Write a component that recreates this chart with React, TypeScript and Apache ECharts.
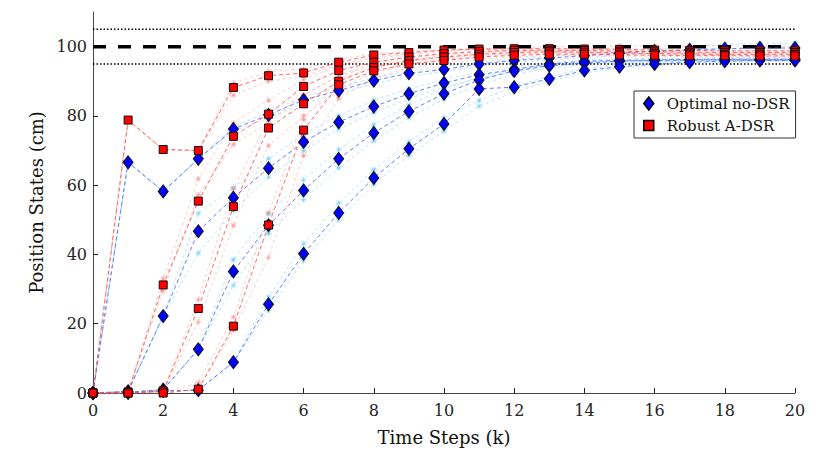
import React, { useEffect, useRef } from "react";
import * as echarts from "echarts";

// ---------- data ----------
const steps = [0, 1, 2, 3, 4, 5, 6, 7, 8, 9, 10, 11, 12, 13, 14, 15, 16, 17, 18, 19, 20];
const yTicks = [0, 20, 40, 60, 80, 100];
const targetLine = 100;
const bandLow = 95;
const bandHigh = 105;

// Optimal no-DSR, nominal trajectories (blue diamonds)
const optimal1 = [0, 66.6, 58.2, 67.6, 76.2, 80.3, 84.6, 87.3, 90.2, 92.3, 93.4, 95.0, 96.0, 96.7, 97.4, 98.1, 98.7, 99.1, 99.4, 99.6, 99.6];
const optimal2 = [0, 0.5, 22.2, 46.7, 56.4, 64.9, 72.5, 78.2, 82.7, 86.4, 89.5, 91.9, 93.4, 95.0, 95.8, 96.0, 96.2, 96.3, 96.4, 96.4, 96.4];
const optimal3 = [0, 0.2, 1.0, 12.6, 35.1, 48.4, 58.5, 67.6, 75.1, 81.3, 86.4, 90.4, 93.0, 94.5, 95.3, 95.8, 96.0, 96.1, 96.2, 96.2, 96.2];
const optimal4 = [0, 0, 0.6, 0.8, 8.9, 25.6, 40.2, 52.0, 62.1, 70.5, 77.7, 87.8, 88.3, 90.7, 93.1, 94.2, 95.0, 95.5, 95.8, 96.0, 96.0];

// Optimal no-DSR, perturbed runs (light cyan asterisks)
const optimalRun1a = [0, 66.6, 58.2, 67.6, 76.8, 81.2, 85.5, 88.4, 91.0, 93.0, 94.3, 95.5, 96.4, 97.2, 97.9, 98.6, 99.3, 100.0, 100.6, 101.0, 101.0];
const optimalRun1b = [0, 66.6, 58.2, 67.6, 75.6, 79.4, 83.6, 86.4, 89.3, 91.5, 92.8, 94.4, 95.5, 96.2, 96.8, 97.5, 98.2, 98.9, 99.4, 99.8, 99.9];
const optimalRun2a = [0, 0.5, 22.2, 51.9, 59.3, 67.6, 74.8, 80.0, 84.5, 87.8, 90.5, 92.6, 94.2, 95.4, 96.1, 96.4, 96.6, 96.7, 96.8, 96.8, 96.8];
const optimalRun2b = [0, 0.5, 22.2, 40.4, 52.7, 62.3, 70.0, 76.2, 81.0, 85.0, 88.2, 90.9, 92.8, 94.3, 95.2, 95.6, 95.8, 96.0, 96.1, 96.1, 96.1];
const optimalRun3a = [0, 0.2, 1.0, 12.6, 38.5, 51.8, 61.5, 70.3, 77.5, 83.2, 87.8, 91.2, 93.5, 94.9, 95.6, 96.0, 96.2, 96.3, 96.4, 96.4, 96.4];
const optimalRun3b = [0, 0.2, 1.0, 12.6, 31.1, 46.1, 55.8, 65.0, 72.8, 79.5, 84.9, 89.0, 91.9, 93.8, 94.9, 95.4, 95.7, 95.9, 96.0, 96.0, 96.0];
const optimalRun4a = [0, 0, 0.6, 0.8, 8.9, 27.7, 43.0, 54.8, 64.5, 72.6, 79.4, 84.5, 88.5, 91.5, 93.5, 94.8, 95.5, 95.9, 96.1, 96.2, 96.2];
const optimalRun4b = [0, 0, 0.6, 0.8, 8.9, 23.9, 38.2, 50.0, 60.2, 68.6, 75.6, 82.8, 87.0, 90.0, 92.4, 93.9, 94.8, 95.3, 95.6, 95.8, 95.8];

// Robust A-DSR, nominal trajectories (red squares)
const robust1 = [0, 78.8, 70.3, 70.0, 88.2, 91.6, 92.4, 95.5, 97.6, 98.3, 99.0, 99.3, 99.4, 99.4, 99.3, 99.2, 99.0, 98.9, 98.8, 98.8, 98.8];
const robust2 = [0, 0.3, 31.2, 55.4, 74.1, 80.5, 88.5, 93.1, 95.5, 97.0, 98.0, 98.6, 98.9, 99.0, 98.9, 98.7, 98.5, 98.4, 98.3, 98.3, 98.3];
const robust3 = [0, 0, 0.6, 24.4, 53.8, 76.5, 83.5, 90.0, 94.0, 96.0, 97.0, 97.8, 98.3, 98.5, 98.4, 98.2, 98.0, 97.9, 97.8, 97.8, 97.8];
const robust4 = [0, 0, 0, 1.1, 19.3, 48.5, 75.9, 89.0, 93.0, 95.0, 96.0, 97.0, 97.5, 97.8, 97.8, 97.6, 97.5, 97.4, 97.4, 97.3, 97.3];

// Robust A-DSR, perturbed runs (light pink asterisks)
const robustRun1a = [0, 78.8, 70.3, 70.0, 86.0, 90.0, 91.5, 94.8, 97.0, 98.0, 98.8, 99.5, 99.8, 100.0, 100.1, 100.2, 100.2, 100.2, 100.2, 100.2, 100.2];
const robustRun1b = [0, 78.8, 70.3, 70.0, 89.5, 92.8, 93.6, 96.2, 98.0, 98.6, 99.2, 99.0, 99.0, 98.9, 98.8, 98.7, 98.6, 98.5, 98.5, 98.5, 98.5];
const robustRun2a = [0, 0.3, 33.0, 61.8, 78.0, 84.5, 90.5, 94.5, 96.5, 97.8, 98.6, 99.2, 99.5, 99.6, 99.5, 99.3, 99.1, 99.0, 98.9, 98.9, 98.9];
const robustRun2b = [0, 0.3, 29.5, 57.2, 71.8, 78.0, 86.0, 91.5, 94.5, 96.2, 97.4, 98.1, 98.5, 98.6, 98.5, 98.3, 98.1, 98.0, 97.9, 97.9, 97.9];
const robustRun3a = [0, 0, 0.6, 27.0, 59.0, 79.0, 86.0, 91.8, 95.0, 96.8, 97.8, 98.4, 98.8, 99.0, 98.9, 98.7, 98.5, 98.3, 98.2, 98.2, 98.2];
const robustRun3b = [0, 0, 0.6, 20.5, 48.4, 71.4, 80.0, 87.5, 92.5, 95.0, 96.3, 97.2, 97.8, 98.1, 98.0, 97.9, 97.7, 97.6, 97.5, 97.5, 97.5];
const robustRun4a = [0, 0, 0, 3.0, 21.9, 52.0, 79.0, 90.5, 94.0, 95.8, 96.8, 97.5, 98.0, 98.2, 98.2, 98.0, 97.9, 97.8, 97.7, 97.7, 97.7];
const robustRun4b = [0, 0, 0, 1.1, 18.1, 39.2, 68.6, 85.0, 91.0, 93.8, 95.2, 96.3, 97.0, 97.4, 97.4, 97.3, 97.2, 97.1, 97.0, 97.0, 97.0];

const optimalMain = [optimal1, optimal2, optimal3, optimal4];
const optimalRuns = [optimalRun1a, optimalRun1b, optimalRun2a, optimalRun2b, optimalRun3a, optimalRun3b, optimalRun4a, optimalRun4b];
const robustMain = [robust1, robust2, robust3, robust4];
const robustRuns = [robustRun1a, robustRun1b, robustRun2a, robustRun2b, robustRun3a, robustRun3b, robustRun4a, robustRun4b];

const OPT_NAME = "Optimal no-DSR";
const ROB_NAME = "Robust A-DSR";

// ---------- styling ----------
const FONT = "DejaVu Serif, Times New Roman, Liberation Serif, serif";
const ASTERISK =
  "path://M-0.5,-5L0.5,-5L0.5,5L-0.5,5Z M-5,-0.5L5,-0.5L5,0.5L-5,0.5Z M-3.9,-3.2L-3.2,-3.9L3.9,3.2L3.2,3.9Z M3.2,-3.9L3.9,-3.2L-3.2,3.9L-3.9,3.2Z";

const toPoints = (vals: number[]) => steps.map((k, i) => [k, vals[i]]);

function runSeries(vals: number[], color: string, name: string) {
  return {
    type: "line",
    name,
    data: toPoints(vals),
    symbol: ASTERISK,
    symbolSize: 6,
    showSymbol: true,
    silent: true,
    lineStyle: { color, width: 0.8, type: [3, 3], opacity: 0.55 },
    itemStyle: { color, opacity: 0.8 },
    emphasis: { disabled: true },
    z: 2,
  };
}

function mainSeries(vals: number[], lineColor: string, fill: string, symbol: string, size: any, name: string) {
  return {
    type: "line",
    name,
    data: toPoints(vals),
    symbol,
    symbolSize: size,
    showSymbol: true,
    silent: true,
    lineStyle: { color: lineColor, width: 1, type: [4, 3], opacity: 0.85 },
    itemStyle: { color: fill, borderColor: "#111", borderWidth: 1, opacity: 1 },
    emphasis: { disabled: true },
    z: 4,
  };
}

function refSeries(y: number, type: any, width: number) {
  return {
    type: "line",
    name: "_ref" + y,
    data: [
      [0, y],
      [20, y],
    ],
    symbol: "none",
    silent: true,
    lineStyle: { color: "#000", width, type },
    emphasis: { disabled: true },
    z: 3,
  };
}

export default function App() {
  const ref = useRef<HTMLDivElement>(null);

  useEffect(() => {
    document.body.style.margin = "0";
    if (!ref.current) return;
    const chart = echarts.init(ref.current, undefined, { renderer: "svg" });

    const series: any[] = [
      ...optimalRuns.map((v) => runSeries(v, "#5cc8f0", "_optRun")),
      ...robustRuns.map((v) => runSeries(v, "#f58c8c", "_robRun")),
      refSeries(bandLow, [1.5, 2], 1.5),
      refSeries(bandHigh, [1.5, 2], 1.5),
      refSeries(targetLine, [13, 12], 3.5),
      ...optimalMain.map((v) => mainSeries(v, "#4a66ff", "#0000ff", "diamond", [10, 13], OPT_NAME)),
      ...robustMain.map((v) => mainSeries(v, "#ff4d4d", "#ff0000", "rect", 8, ROB_NAME)),
    ];

    chart.setOption({
      animation: false,
      backgroundColor: "#fff",
      textStyle: { fontFamily: FONT },
      grid: { left: 93, right: 27, top: 12, bottom: 67 },
      legend: {
        data: [
          {
            name: OPT_NAME,
            icon: "path://M5,0L10,6.5L5,13L0,6.5Z",
            itemStyle: { color: "#0000ff", borderColor: "#000", borderWidth: 1.5 },
          },
          {
            name: ROB_NAME,
            icon: "path://M0,0L10,0L10,10L0,10Z",
            itemStyle: { color: "#ff0000", borderColor: "#000", borderWidth: 1.5 },
          },
        ],
        symbolKeepAspect: true,
        orient: "vertical",
        left: 634,
        top: 91,
        itemWidth: 10,
        itemHeight: 13,
        itemGap: 5,
        padding: [4, 6, 4, 9],
        backgroundColor: "#fff",
        borderColor: "#333",
        borderWidth: 1,
        borderRadius: 0,
        selectedMode: false,
        textStyle: { fontFamily: FONT, fontSize: 15, color: "#111", lineHeight: 17, padding: [0, 0, 0, 8] },
      },
      xAxis: {
        type: "value",
        min: 0,
        max: 20,
        interval: 2,
        name: "Time Steps (k)",
        nameLocation: "middle",
        nameGap: 35,
        nameTextStyle: { fontFamily: FONT, fontSize: 18, color: "#111" },
        axisLine: { show: true, onZero: false, lineStyle: { color: "#444", width: 1 } },
        axisTick: { show: true, inside: true, length: 5, lineStyle: { color: "#222" } },
        axisLabel: { fontFamily: FONT, fontSize: 16, color: "#222", margin: 9 },
        splitLine: { show: false },
      },
      yAxis: {
        type: "value",
        min: 0,
        max: 110,
        name: "Position States (cm)",
        nameLocation: "middle",
        nameGap: 40,
        nameRotate: 90,
        nameTextStyle: { fontFamily: FONT, fontSize: 18, color: "#111" },
        axisLine: { show: true, lineStyle: { color: "#444", width: 1 } },
        axisTick: { show: true, inside: true, length: 5, lineStyle: { color: "#222" }, customValues: yTicks },
        axisLabel: { fontFamily: FONT, fontSize: 16, color: "#222", margin: 6, customValues: yTicks },
        splitLine: { show: false },
      },
      series,
    });

    return () => chart.dispose();
  }, []);

  return <div ref={ref} style={{ width: 822, height: 460 }} />;
}
